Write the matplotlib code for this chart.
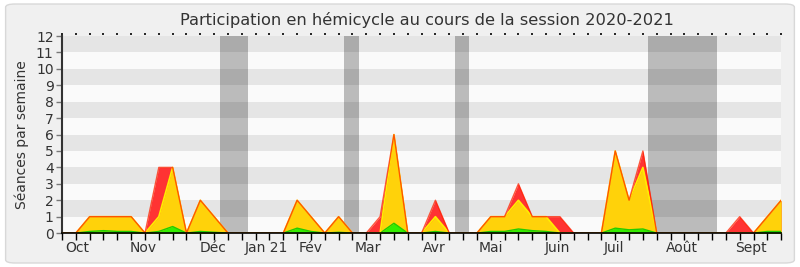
import matplotlib
matplotlib.use("Agg")
import matplotlib.pyplot as plt
from matplotlib.patches import FancyBboxPatch
import numpy as np

# une valeur par semaine (index 0 = semaine avant octobre 2020)
seances_total = [0, 0, 1, 1, 1, 1, 0, 4, 4, 0, 2, 1, 0, 0, 0, 0, 0, 2, 1, 0, 1, 0, 0, 1, 6, 0,
                 0, 2, 0, 0, 0, 1, 1, 3, 1, 1, 1, 0, 0, 0, 5, 2, 5, 0, 0, 0, 0, 0, 0, 1, 0, 1, 2]
seances_presence = [0, 0, 1, 1, 1, 1, 0, 1, 4, 0, 2, 1, 0, 0, 0, 0, 0, 2, 1, 0, 1, 0, 0, 0, 6, 0,
                    0, 1, 0, 0, 0, 1, 1, 2, 1, 1, 0, 0, 0, 0, 5, 2, 4, 0, 0, 0, 0, 0, 0, 0, 0, 1, 2]
seances_interv = [0, 0, 0.1, 0.15, 0.1, 0.1, 0, 0.1, 0.4, 0, 0.1, 0.05, 0, 0, 0, 0, 0, 0.3, 0.1, 0,
                  0.05, 0, 0, 0, 0.6, 0, 0, 0.1, 0, 0, 0, 0.1, 0.1, 0.25, 0.15, 0.1, 0, 0, 0, 0,
                  0.3, 0.2, 0.25, 0, 0, 0, 0, 0, 0, 0, 0, 0.1, 0.1]

mois_labels = ["Oct", "Nov", "Déc", "Jan 21", "Fév", "Mar", "Avr", "Mai", "Juin", "Juil", "Août", "Sept"]
mois_pos = [1.08, 5.87, 10.9, 14.8, 18.0, 22.1, 26.9, 31.0, 35.8, 39.9, 44.8, 49.8]

# vacances parlementaires (debut, fin) en semaines
vacances = [(11.44, 13.47), (20.4, 21.5), (28.4, 29.4), (42.35, 47.36)]

semaines = np.arange(len(seances_total))

fig = plt.figure(figsize=(8, 2.67), dpi=100)
fig.patch.set_facecolor("white")
fig.patches.append(FancyBboxPatch((0.007, 0.015), 0.986, 0.97, boxstyle="round,pad=0,rounding_size=0.012",
                                  transform=fig.transFigure, facecolor="#f0f0f0",
                                  edgecolor="#d8d8d8", linewidth=1.0, zorder=-10))

ax = fig.add_axes([0.0775, 0.127, 0.899, 0.738])
ax.set_facecolor("#fafafa")
ax.set_xlim(0, 52)
ax.set_ylim(0, 12)

# bandes horizontales
for y in range(1, 12, 2):
    ax.axhspan(y, y + 1, color="#e5e5e5", lw=0, zorder=0)

for d, f in vacances:
    ax.axvspan(d, f, color="black", alpha=0.25, lw=0, zorder=1)

ax.fill_between(semaines, seances_total, color="#ff3333", lw=0, zorder=2)
ax.fill_between(semaines, seances_presence, color="#ffd20a", lw=0, zorder=3)
ax.fill_between(semaines, seances_interv, color="#33ee00", lw=0, zorder=4)
ax.plot(semaines, seances_interv, color="#22cc00", lw=1, zorder=5)
ax.plot(semaines, seances_presence, color="#ffee00", lw=1.2, zorder=5)
ax.plot(semaines, seances_total, color="#ff2200", lw=1, alpha=0.75, zorder=6)

ax.set_yticks(range(0, 13))
ax.tick_params(axis="y", direction="out", length=4, width=1, color="#777777",
               labelsize=10, labelcolor="#333333", pad=2)

# noms des mois
ax.xaxis.remove_overlapping_locs = False
ax.set_xticks(mois_pos)
ax.set_xticklabels(mois_labels)
ax.tick_params(axis="x", length=0, labelsize=10, labelcolor="#333333", pad=6)

# traits hebdo en bas, petits points en haut
trans = ax.get_xaxis_transform()
ax.vlines(semaines, -0.035, 0, transform=trans, colors="black", lw=1, clip_on=False, zorder=10)
ax.vlines(semaines, 1.006, 1.016, transform=trans, colors="black", lw=1.2, clip_on=False, zorder=10)

for s in ["top", "right"]:
    ax.spines[s].set_visible(False)
ax.spines["left"].set_color("#333333")
ax.spines["left"].set_linewidth(1.5)
ax.spines["bottom"].set_color("black")
ax.spines["bottom"].set_linewidth(1.2)
ax.spines["bottom"].set_zorder(10)

ax.set_ylabel("Séances par semaine", fontsize=10, color="#333333", labelpad=5)
fig.text(0.534, 0.925, "Participation en hémicycle au cours de la session 2020-2021", fontsize=11.7,
         color="#333333", ha="center", va="center")

fig.savefig("out.png", dpi=100)
